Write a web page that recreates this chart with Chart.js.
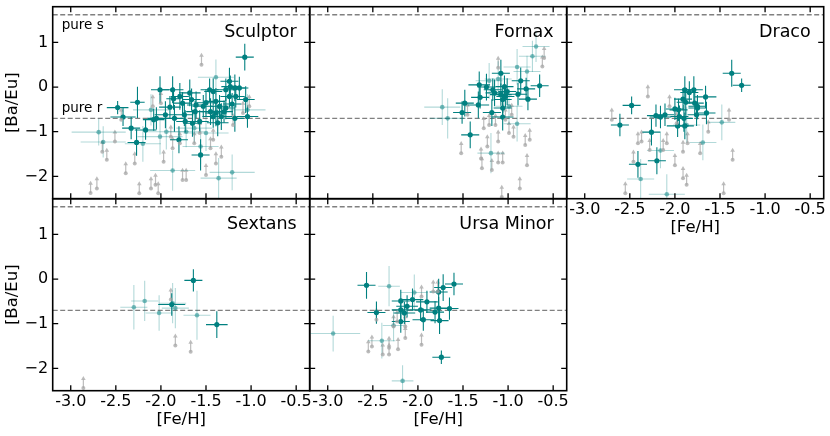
<!DOCTYPE html>
<html>
<head>
<meta charset="utf-8">
<script src="https://cdn.jsdelivr.net/npm/chart.js@4.4.1/dist/chart.umd.min.js"></script>
<style>
  html, body { margin: 0; padding: 0; background: #fff; }
  #fig { position: relative; width: 830px; height: 436px; }
  #fig canvas { position: absolute; left: 0; top: 0; }
</style>
</head>
<body>
<div id="fig"></div>
<script>
// each row: [Fe/H], [Ba/Eu], err [Fe/H], err [Ba/Eu]
// "dark" = good measurements, "light" = less certain, "limits" = lower limits (grey arrows)
const sculptorDark = [
  [-1.07, 0.67, 0.10, 0.30], [-2.48, -0.46, 0.12, 0.15], [-2.42, -0.67, 0.14, 0.20],
  [-2.26, -0.34, 0.08, 0.35], [-2.33, -0.92, 0.10, 0.25], [-2.27, -1.24, 0.10, 0.30],
  [-2.17, -0.96, 0.12, 0.22], [-2.08, -0.73, 0.12, 0.25], [-2.01, -0.06, 0.10, 0.30],
  [-1.87, -0.06, 0.12, 0.30], [-1.86, -0.26, 0.08, 0.25], [-1.79, -0.21, 0.10, 0.30],
  [-1.76, -0.36, 0.10, 0.25], [-1.90, -0.45, 0.12, 0.25], [-1.85, -0.70, 0.10, 0.30],
  [-1.73, -0.77, 0.10, 0.25], [-1.80, -1.18, 0.10, 0.30], [-1.68, -0.13, 0.12, 0.30],
  [-1.66, -0.28, 0.10, 0.25], [-1.61, -0.40, 0.10, 0.30], [-1.56, -1.52, 0.10, 0.35],
  [-1.53, -0.43, 0.12, 0.25], [-1.46, -0.06, 0.10, 0.25], [-1.45, -0.55, 0.10, 0.30],
  [-1.42, -0.66, 0.12, 0.25], [-1.39, -0.32, 0.10, 0.30], [-1.35, -0.43, 0.10, 0.25],
  [-1.33, -0.66, 0.12, 0.30], [-1.24, 0.13, 0.10, 0.30], [-1.23, 0.01, 0.10, 0.25],
  [-1.18, -0.02, 0.12, 0.30], [-1.17, -0.21, 0.10, 0.25], [-1.13, -0.02, 0.10, 0.25],
  [-1.06, -0.28, 0.10, 0.30], [-1.04, -0.66, 0.12, 0.25], [-1.18, -0.70, 0.10, 0.30],
  [-1.28, -0.47, 0.10, 0.25], [-1.39, -0.58, 0.12, 0.30], [-1.57, -0.77, 0.10, 0.25],
  [-1.65, -0.81, 0.10, 0.30], [-1.74, -0.62, 0.10, 0.25], [-1.95, -0.62, 0.12, 0.30],
  [-2.05, -0.70, 0.10, 0.25], [-1.24, -0.21, 0.10, 0.25], [-1.42, -0.10, 0.10, 0.30],
  [-1.28, -0.06, 0.10, 0.25], [-1.30, -0.55, 0.10, 0.25], [-1.37, -0.80, 0.12, 0.30],
  [-1.21, -0.38, 0.10, 0.25], [-1.50, -0.35, 0.10, 0.30], [-1.62, -0.55, 0.10, 0.25]
];
const sculptorLight = [
  [-2.69, -1.01, 0.30, 0.30], [-2.64, -1.23, 0.25, 0.35], [-2.20, -1.27, 0.20, 0.40],
  [-1.87, -1.87, 0.25, 0.45], [-1.56, -1.33, 0.20, 0.40], [-1.36, -2.04, 0.20, 0.45],
  [-1.21, -1.91, 0.25, 0.40], [-1.39, 0.22, 0.20, 0.40], [-2.01, -1.11, 0.25, 0.40],
  [-1.72, -1.00, 0.20, 0.35], [-2.11, -0.51, 0.20, 0.35], [-1.50, -1.03, 0.25, 0.40],
  [-1.04, -0.51, 0.20, 0.35], [-1.94, -1.00, 0.25, 0.40], [-1.63, -0.92, 0.20, 0.35]
];
const sculptorLimits = [
  [-1.55, 0.50], [-2.78, -2.37], [-2.71, -2.27], [-2.65, -1.45], [-2.60, -1.63],
  [-2.51, -1.22], [-2.39, -1.93], [-2.29, -1.71], [-2.24, -2.38], [-2.11, -2.27],
  [-2.06, -2.19], [-2.03, -2.38], [-1.97, -1.67], [-1.89, -1.11], [-1.87, -1.37],
  [-1.76, -2.08], [-1.72, -2.08], [-1.50, -1.97], [-1.57, -1.03], [-1.45, -1.37],
  [-1.39, -1.71], [-1.33, -1.56], [-1.02, -0.43], [-1.09, -0.58], [-2.09, -0.43],
  [-2.00, -0.36], [-1.79, -1.26], [-1.63, -1.26], [-1.42, -1.18], [-1.20, -0.85],
  [-2.44, -0.73]
];

const fornaxDark = [
  [-1.32, 0.05, 0.12, 0.30], [-1.31, -0.23, 0.10, 0.25], [-1.48, -0.36, 0.10, 0.30],
  [-1.51, -0.57, 0.10, 0.25], [-1.42, -1.07, 0.10, 0.30], [-1.33, -0.40, 0.12, 0.30],
  [-1.24, 0.00, 0.10, 0.30], [-1.17, -0.06, 0.10, 0.25], [-1.15, -0.13, 0.10, 0.30],
  [-1.08, -0.17, 0.12, 0.25], [-1.06, -0.28, 0.10, 0.30], [-1.04, 0.01, 0.10, 0.25],
  [-1.01, -0.10, 0.10, 0.30], [-1.03, -0.21, 0.10, 0.25], [-1.18, -0.57, 0.10, 0.30],
  [-1.06, -0.47, 0.10, 0.25], [-1.06, -0.67, 0.12, 0.30], [-0.89, -0.16, 0.10, 0.25],
  [-0.86, 0.14, 0.10, 0.30], [-0.80, -0.04, 0.10, 0.25], [-0.78, -0.27, 0.10, 0.25],
  [-0.65, 0.03, 0.10, 0.25], [-1.08, 0.31, 0.10, 0.30]
];
const fornaxLight = [
  [-1.73, -0.45, 0.20, 0.40], [-1.67, -0.70, 0.20, 0.45], [-0.69, 0.91, 0.15, 0.35],
  [-0.73, 0.69, 0.15, 0.35], [-0.90, 0.45, 0.15, 0.40], [-0.79, 0.35, 0.15, 0.35],
  [-1.19, -1.48, 0.15, 0.45], [-0.90, -0.82, 0.15, 0.40], [-1.11, 0.18, 0.15, 0.40],
  [-1.21, 0.14, 0.15, 0.40], [-0.99, -0.43, 0.15, 0.40]
];
const fornaxLimits = [
  [-1.52, -1.48], [-1.30, -1.60], [-1.29, -1.82], [-1.23, -1.33], [-1.18, -1.86],
  [-1.11, -1.69], [-1.06, -1.69], [-1.11, -1.22], [-1.27, -0.92], [-1.21, -0.85],
  [-1.14, -0.85], [-0.99, -1.03], [-0.94, -1.11], [-0.81, -1.30], [-0.76, -1.18],
  [-0.79, -1.75], [-0.87, -2.27], [-1.07, -2.46], [-0.62, 0.46], [-0.60, 0.65],
  [-1.11, 0.43], [-1.03, -0.73], [-0.96, -0.62], [-1.45, -0.62]
];

const dracoDark = [
  [-1.37, 0.31, 0.10, 0.30], [-1.26, 0.04, 0.10, 0.15], [-2.48, -0.41, 0.10, 0.20],
  [-2.61, -0.85, 0.10, 0.25], [-2.26, -1.01, 0.10, 0.30], [-2.21, -0.64, 0.10, 0.25],
  [-2.16, -0.67, 0.12, 0.25], [-2.11, -0.62, 0.10, 0.25], [-2.00, -0.49, 0.10, 0.25],
  [-1.96, -0.51, 0.10, 0.25], [-1.89, -0.06, 0.12, 0.30], [-1.84, -0.12, 0.10, 0.25],
  [-1.79, -0.06, 0.10, 0.30], [-1.91, -0.27, 0.10, 0.25], [-1.88, -0.34, 0.10, 0.30],
  [-1.78, -0.36, 0.10, 0.25], [-1.75, -0.47, 0.10, 0.25], [-1.76, -0.62, 0.10, 0.25],
  [-1.66, -0.22, 0.12, 0.25], [-1.65, -0.58, 0.10, 0.25], [-1.90, -0.70, 0.10, 0.30],
  [-1.97, -0.87, 0.12, 0.25], [-1.89, -0.87, 0.10, 0.30], [-2.41, -1.73, 0.10, 0.30],
  [-2.20, -1.65, 0.10, 0.30], [-1.95, -0.66, 0.10, 0.25], [-1.75, -0.43, 0.10, 0.25]
];
const dracoLight = [
  [-1.48, -0.79, 0.15, 0.40], [-1.69, -1.24, 0.15, 0.40], [-2.16, -1.42, 0.15, 0.40],
  [-2.38, -2.06, 0.15, 0.45], [-2.09, -2.40, 0.20, 0.45], [-1.87, -0.85, 0.15, 0.40]
];
const dracoLimits = [
  [-2.70, -0.73], [-2.30, -0.21], [-2.41, -1.26], [-2.37, -1.22], [-2.28, -1.41],
  [-2.46, -1.67], [-2.13, -1.41], [-2.09, -1.26], [-2.00, -1.75], [-1.91, -2.04],
  [-1.87, -2.19], [-1.91, -1.45], [-1.86, -1.26], [-1.72, -1.48], [-1.63, -1.00],
  [-1.40, -0.73], [-1.36, -1.63], [-1.46, -2.38], [-2.55, -2.38], [-2.06, -0.43],
  [-1.98, -0.81]
];

const sextansDark = [
  [-1.64, -0.03, 0.10, 0.25], [-1.88, -0.57, 0.15, 0.25], [-1.38, -1.02, 0.12, 0.30]
];
const sextansLight = [
  [-2.30, -0.63, 0.15, 0.50], [-2.18, -0.49, 0.15, 0.45], [-2.02, -0.76, 0.15, 0.40],
  [-1.84, -0.65, 0.15, 0.45], [-1.60, -0.81, 0.15, 0.55], [-1.87, -0.54, 0.15, 0.45]
];
const sextansLimits = [
  [-1.84, -1.49], [-1.67, -1.63], [-2.86, -2.44], [-1.89, -0.46]
];

const ursaMinorDark = [
  [-2.57, -0.14, 0.10, 0.30], [-2.46, -0.75, 0.10, 0.25], [-2.19, -0.49, 0.10, 0.25],
  [-2.12, -0.61, 0.12, 0.25], [-2.06, -0.46, 0.12, 0.25], [-2.19, -0.69, 0.10, 0.25],
  [-2.15, -0.76, 0.12, 0.25], [-2.19, -0.95, 0.10, 0.25], [-1.97, -0.69, 0.12, 0.25],
  [-1.94, -0.91, 0.12, 0.25], [-1.90, -0.51, 0.12, 0.25], [-1.81, -0.74, 0.10, 0.25],
  [-1.77, -0.29, 0.10, 0.30], [-1.72, -0.19, 0.10, 0.30], [-1.60, -0.11, 0.10, 0.25],
  [-1.65, -0.66, 0.10, 0.25], [-1.77, -0.65, 0.10, 0.25], [-1.76, -0.93, 0.10, 0.30],
  [-1.74, -1.75, 0.10, 0.15]
];
const ursaMinorLight = [
  [-2.94, -1.22, 0.30, 0.40], [-2.32, -0.16, 0.12, 0.45], [-2.04, -0.30, 0.15, 0.40],
  [-2.40, -1.38, 0.15, 0.40], [-2.17, -2.28, 0.12, 0.35], [-2.27, -1.04, 0.12, 0.35]
];
const ursaMinorLimits = [
  [-2.55, -1.62], [-2.51, -1.51], [-2.46, -0.91], [-2.39, -1.69], [-2.32, -1.69],
  [-2.32, -1.54], [-2.22, -1.57], [-2.23, -0.95], [-2.27, -1.06], [-2.14, -1.32],
  [-2.14, -1.06], [-1.96, -1.47], [-1.96, -0.39], [-1.83, -0.28], [-1.78, -0.28]
];

const galaxyNames = ['Sculptor', 'Fornax', 'Draco', 'Sextans', 'Ursa Minor'];
const darkSets = [sculptorDark, fornaxDark, dracoDark, sextansDark, ursaMinorDark];
const lightSets = [sculptorLight, fornaxLight, dracoLight, sextansLight, ursaMinorLight];
const limitSets = [sculptorLimits, fornaxLimits, dracoLimits, sextansLimits, ursaMinorLimits];

const pureS = 1.62;
const pureR = -0.70;
const xTickValues = [-3.0, -2.5, -2.0, -1.5, -1.0, -0.5];
const xTickLabels = ['-3.0', '-2.5', '-2.0', '-1.5', '-1.0', '-0.5'];
const yTickValues = [-2, -1, 0, 1];
const yTickLabels = ['\u22122', '\u22121', '0', '1'];
const xRange = [-3.2, -0.35];
const yRange = [-2.5, 1.8];
const limitArrow = 0.26;

// panel geometry (pixels)
const W = 830, H = 436;
const colEdges = [52.7, 309.7, 566.7, 823.7];
const rowEdges = [6.7, 198.7, 390.7];
const panelPos = [[0, 0], [0, 1], [0, 2], [1, 0], [1, 1]];

const TEAL = 'rgb(0,128,128)';
const TEAL_LIGHT_BAR = 'rgba(0,128,128,0.3)';
const TEAL_LIGHT_PT = 'rgba(0,128,128,0.5)';
const GREY = 'rgba(165,165,165,0.75)';
const FONT = "'DejaVu Sans', sans-serif";

const decorPlugin = {
  id: 'decor',
  beforeDatasetsDraw(chart) {
    const { ctx, chartArea: a, scales: { x, y } } = chart;
    ctx.save();
    ctx.beginPath();
    ctx.rect(a.left, a.top, a.right - a.left, a.bottom - a.top);
    ctx.clip();

    // reference lines
    ctx.strokeStyle = 'rgb(128,128,128)';
    ctx.lineWidth = 1.3;
    ctx.setLineDash([5, 2.5]);
    [pureS, pureR].forEach(v => {
      const py = y.getPixelForValue(v);
      ctx.beginPath();
      ctx.moveTo(a.left, py);
      ctx.lineTo(a.right, py);
      ctx.stroke();
    });
    ctx.setLineDash([]);

    chart.data.datasets.forEach(ds => {
      if (ds.kind === 'limit') {
        ctx.strokeStyle = GREY;
        ctx.fillStyle = GREY;
        ctx.lineWidth = 1.2;
        ds.data.forEach(p => {
          const px = x.getPixelForValue(p.x);
          const py0 = y.getPixelForValue(p.y);
          const py1 = y.getPixelForValue(p.y + limitArrow);
          ctx.beginPath();
          ctx.moveTo(px, py0);
          ctx.lineTo(px, py1 + 3);
          ctx.stroke();
          ctx.beginPath();
          ctx.moveTo(px, py1 - 0.5);
          ctx.lineTo(px - 2.3, py1 + 3.5);
          ctx.lineTo(px + 2.3, py1 + 3.5);
          ctx.closePath();
          ctx.fill();
        });
      } else {
        ctx.strokeStyle = ds.kind === 'dark' ? TEAL : TEAL_LIGHT_BAR;
        ctx.lineWidth = 1.1;
        ds.data.forEach(p => {
          const px = x.getPixelForValue(p.x);
          const py = y.getPixelForValue(p.y);
          ctx.beginPath();
          ctx.moveTo(x.getPixelForValue(p.x - p.xe), py);
          ctx.lineTo(x.getPixelForValue(p.x + p.xe), py);
          ctx.moveTo(px, y.getPixelForValue(p.y - p.ye));
          ctx.lineTo(px, y.getPixelForValue(p.y + p.ye));
          ctx.stroke();
        });
      }
    });
    ctx.restore();
  },
  afterDraw(chart, args, opts) {
    const { ctx, chartArea: a, scales: { x, y } } = chart;
    ctx.save();
    ctx.strokeStyle = '#000';
    ctx.fillStyle = '#000';

    // inward ticks on all sides
    ctx.lineWidth = 1.3;
    const tl = 5.5;
    ctx.beginPath();
    xTickValues.forEach(v => {
      const px = x.getPixelForValue(v);
      ctx.moveTo(px, a.bottom); ctx.lineTo(px, a.bottom - tl);
      ctx.moveTo(px, a.top); ctx.lineTo(px, a.top + tl);
    });
    yTickValues.forEach(v => {
      const py = y.getPixelForValue(v);
      ctx.moveTo(a.left, py); ctx.lineTo(a.left + tl, py);
      ctx.moveTo(a.right, py); ctx.lineTo(a.right - tl, py);
    });
    ctx.stroke();

    // frame
    ctx.lineWidth = 1.6;
    ctx.strokeRect(a.left, a.top, a.right - a.left, a.bottom - a.top);

    // tick labels and axis titles
    ctx.font = '16px ' + FONT;
    if (opts.xLabels) {
      ctx.textAlign = 'center';
      ctx.textBaseline = 'top';
      xTickValues.forEach((v, i) => {
        ctx.fillText(xTickLabels[i], x.getPixelForValue(v), a.bottom + 3.5);
      });
      ctx.font = '16.5px ' + FONT;
      ctx.textBaseline = 'middle';
      ctx.fillText('[Fe/H]', (a.left + a.right) / 2, a.bottom + 29);
    }
    if (opts.yLabels) {
      ctx.font = '16px ' + FONT;
      ctx.textAlign = 'right';
      ctx.textBaseline = 'middle';
      yTickValues.forEach((v, i) => {
        ctx.fillText(yTickLabels[i], a.left - 4.5, y.getPixelForValue(v));
      });
      ctx.save();
      ctx.font = '16.5px ' + FONT;
      ctx.translate(13, (a.top + a.bottom) / 2);
      ctx.rotate(-Math.PI / 2);
      ctx.textAlign = 'center';
      ctx.textBaseline = 'middle';
      ctx.fillText('[Ba/Eu]', 0, 0);
      ctx.restore();
    }

    // galaxy name
    ctx.font = '17.5px ' + FONT;
    ctx.textAlign = 'right';
    ctx.textBaseline = 'alphabetic';
    ctx.fillText(opts.name, a.right - 13, a.top + 30);

    if (opts.notes) {
      ctx.font = '13.5px ' + FONT;
      ctx.textAlign = 'left';
      ctx.fillText('pure s', a.left + 9, a.top + 22.6);
      ctx.fillText('pure r', a.left + 9, y.getPixelForValue(pureR) - 6.5);
    }
    ctx.restore();
  }
};

const fig = document.getElementById('fig');

galaxyNames.forEach((name, i) => {
  const [row, col] = panelPos[i];
  const canvas = document.createElement('canvas');
  canvas.width = W;
  canvas.height = H;
  canvas.style.width = W + 'px';
  canvas.style.height = H + 'px';
  fig.appendChild(canvas);

  const toPts = rows => rows.map(r => ({ x: r[0], y: r[1], xe: r[2] || 0, ye: r[3] || 0 }));

  new Chart(canvas.getContext('2d'), {
    type: 'scatter',
    data: {
      datasets: [
        {
          kind: 'limit',
          data: toPts(limitSets[i]),
          pointRadius: 2,
          pointBackgroundColor: GREY,
          pointBorderWidth: 0
        },
        {
          kind: 'light',
          data: toPts(lightSets[i]),
          pointRadius: 2.3,
          pointBackgroundColor: TEAL_LIGHT_PT,
          pointBorderWidth: 0
        },
        {
          kind: 'dark',
          data: toPts(darkSets[i]),
          pointRadius: 2.6,
          pointBackgroundColor: TEAL,
          pointBorderWidth: 0
        }
      ]
    },
    options: {
      responsive: false,
      animation: false,
      devicePixelRatio: window.devicePixelRatio || 1,
      layout: {
        padding: {
          left: colEdges[col],
          right: W - colEdges[col + 1],
          top: rowEdges[row],
          bottom: H - rowEdges[row + 1]
        }
      },
      scales: {
        x: { type: 'linear', min: xRange[0], max: xRange[1], display: false },
        y: { type: 'linear', min: yRange[0], max: yRange[1], display: false }
      },
      plugins: {
        legend: { display: false },
        tooltip: { enabled: false },
        decor: {
          name: name,
          xLabels: row === 1 || col === 2,
          yLabels: col === 0,
          notes: i === 0
        }
      }
    },
    plugins: [decorPlugin]
  });
});
</script>
</body>
</html>
